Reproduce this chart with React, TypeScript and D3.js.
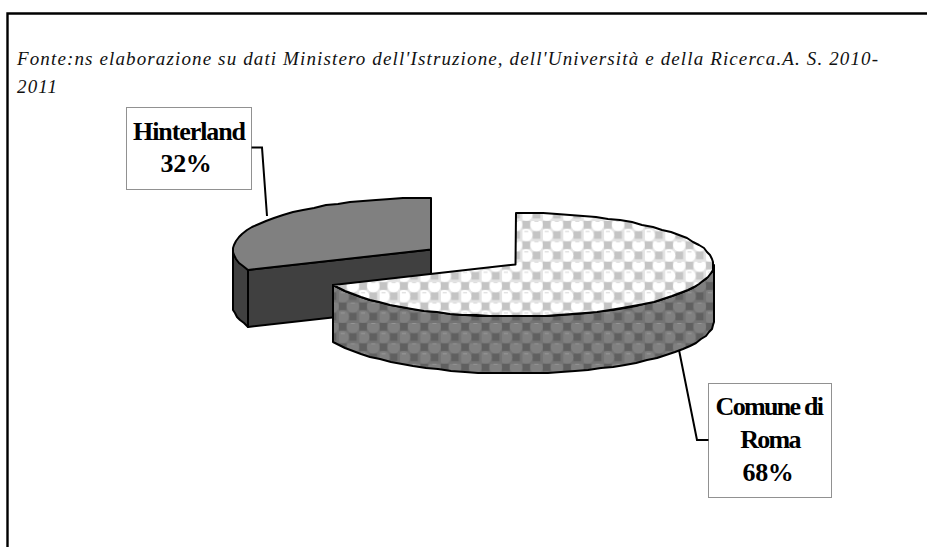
import React from "react";
import * as d3 from "d3";

const categories = ["Comune di Roma", "Hinterland"];
const shares = [68.7, 31.3];
const sourceLines = [
  "Fonte:ns elaborazione su dati Ministero dell'Istruzione, dell'Università e della Ricerca.A. S. 2010-",
  "2011",
];
const hinterlandLabel = ["Hinterland", "32%"];
const comuneLabel = ["Comune di", "Roma", "68%"];

const W = 927, H = 547;
const RX = 198, RY = 52, DEPTH = 57;
const CX = [515.5, 431], CY = [264.5, 249.5];

const pie = d3.pie<number>().sort(null)(shares);
const rimX = d3.scaleLinear().domain([-1, 1]).range([-RX, RX]);
const rimY = d3.scaleLinear().domain([-1, 1]).range([-RY, RY]);

function rim(cx: number, cy: number, a0: number, a1: number) {
  const n = Math.max(2, Math.round(Math.abs(a1 - a0) / 0.07));
  return d3.range(n + 1).map((i) => {
    const a = a0 + ((a1 - a0) * i) / n;
    return [Math.round(cx + rimX(Math.sin(a))), Math.round(cy + rimY(-Math.cos(a)))] as [number, number];
  });
}
const line = d3.line();
const stroke = { stroke: "#000", strokeWidth: 2, strokeLinejoin: "round" as const };

function topPath(i: number) {
  const p = pie[i];
  const c: [number, number] = [CX[i], CY[i]];
  return (line([c, ...rim(CX[i], CY[i], p.startAngle, p.endAngle)]) as string) + "Z";
}
function sidePath(i: number, a0: number, a1: number) {
  const up = rim(CX[i], CY[i], a0, a1);
  const down = rim(CX[i], CY[i] + DEPTH, a1, a0);
  return (line([...up, ...down]) as string) + "Z";
}

function Tile({ id, bg, sq, circ, glint }: { id: string; bg: string; sq: string; circ: string; glint: string }) {
  return (
    <pattern id={id} width={20.4} height={20.4} patternUnits="userSpaceOnUse" x={12.5} y={17}>
      <rect width={20.4} height={20.4} fill={bg} />
      <rect x={0} y={0} width={7.6} height={7.6} fill={sq} />
      <rect x={10.2} y={10.2} width={7.6} height={7.6} fill={sq} />
      <circle cx={14} cy={3.8} r={6.2} fill={circ} />
      <circle cx={3.8} cy={14} r={6.2} fill={circ} />
      <rect x={12} y={-0.2} width={4} height={1} fill={glint} />
      <rect x={1.8} y={10} width={4} height={1} fill={glint} />
    </pattern>
  );
}

function Label({ x, y, w, h, lines, tx, top, gap, tight }: { x: number; y: number; w: number; h: number; lines: string[]; tx: number[]; top: number; gap: number; tight: number }) {
  return (
    <g>
      <rect x={x + 0.5} y={y + 0.5} width={w} height={h} fill="#fff" stroke="#222" strokeWidth={1} strokeDasharray="1 1" />
      {lines.map((l, i) => (
        <text key={i} x={tx[i]} y={top + i * gap} textAnchor="middle" fontFamily="'Liberation Serif', serif" fontWeight="bold" fontSize={26} letterSpacing={l.includes("%") ? -0.4 : tight} fill="#000">
          {l}
        </text>
      ))}
    </g>
  );
}

export default function App() {
  const a0 = pie[0];
  const a1 = pie[1];
  const hx = Math.round(CX[1] + rimX(Math.sin(a1.startAngle)));
  const hy = Math.round(CY[1] + rimY(-Math.cos(a1.startAngle)));
  return (
    <svg width={W} height={H} style={{ position: "absolute", left: 0, top: 0, background: "#fff" }}>
      <defs>
        <Tile id="lightTile" bg="#e4e4e4" sq="#c4c4c4" circ="#fff" glint="#d4d4d4" />
        <Tile id="darkTile" bg="#747474" sq="#606060" circ="#808080" glint="#9a9a9a" />
      </defs>
      <path d={`M7.5 ${H + 5}V13.5H${W + 5}`} fill="none" stroke="#000" strokeWidth={2.4} />
      {sourceLines.map((t, i) => (
        <text key={i} x={17} y={65 + i * 28} fontFamily="'Liberation Serif', serif" fontStyle="italic" fontSize={19} letterSpacing={1.13} fill="#111">
          {t}
        </text>
      ))}

      {/* leader lines */}
      <path d="M250 147.5H262L267 216" fill="none" stroke="#000" strokeWidth={2} />
      <path d="M679 350L697 440H709" fill="none" stroke="#000" strokeWidth={2} />

      {/* Hinterland slice */}
      <path d={sidePath(1, a1.startAngle, (3 * Math.PI) / 2)} fill="#404040" {...stroke} />
      <path
        d={(line([[CX[1], CY[1]], [hx, hy], [hx, hy + DEPTH], [CX[1], CY[1] + DEPTH]]) as string) + "Z"}
        fill="#404040"
        {...stroke}
      />
      <path d={topPath(1)} fill="#808080" {...stroke} />

      {/* Comune di Roma slice */}
      <path d={sidePath(0, Math.PI / 2, a0.endAngle)} fill="url(#darkTile)" {...stroke} />
      <path d={topPath(0)} fill="url(#lightTile)" {...stroke} />

      <Label x={126} y={107} w={125} h={82} lines={hinterlandLabel} tx={[189, 186]} top={140} gap={32} tight={-1.1} />
      <Label x={708} y={383} w={123} h={114} lines={comuneLabel} tx={[769, 770, 768]} top={415} gap={33} tight={-1.7} />
      <title>{categories.join(", ")}</title>
    </svg>
  );
}
